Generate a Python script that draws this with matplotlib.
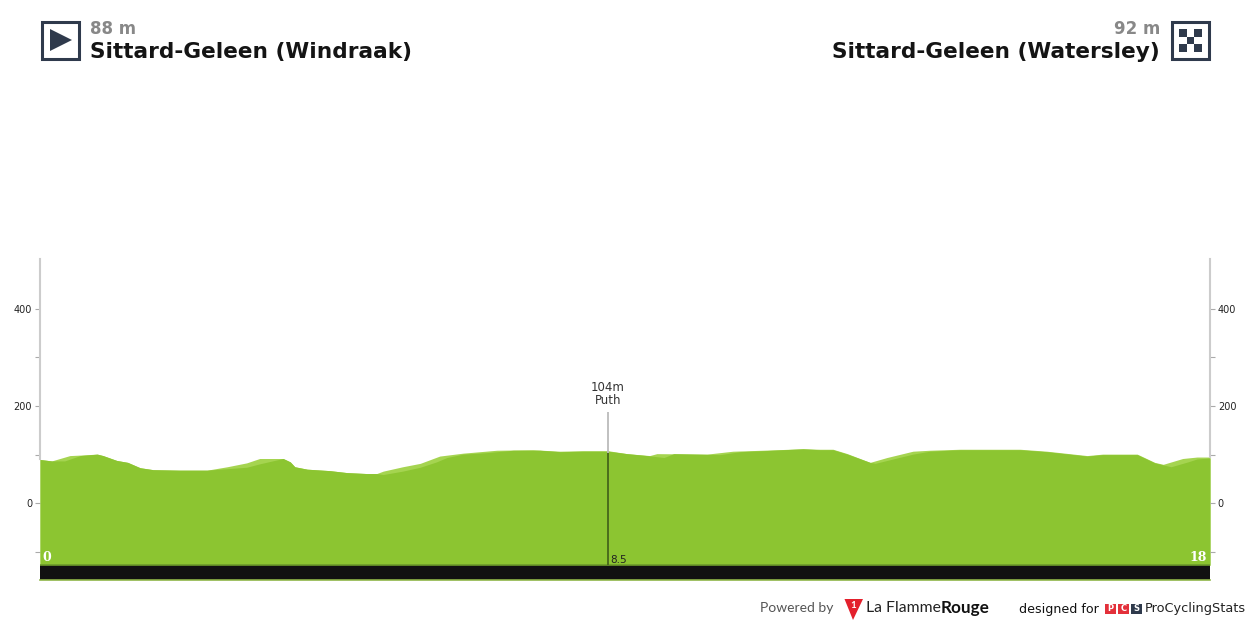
import matplotlib
matplotlib.use('Agg')
import matplotlib.pyplot as plt
from matplotlib.patches import Rectangle, Polygon

# === Data ===
KM_TOP = [0, 0.18, 0.46, 0.62, 0.88, 0.97, 1.18, 1.35, 1.54, 1.74, 2.15, 2.57, 2.88, 3.18, 3.38, 3.74,
          3.85, 3.92, 4.11, 4.46, 4.72, 5.03, 5.18, 5.28, 5.58, 5.85, 6.15, 6.51, 7.03, 7.58, 8.0, 8.35,
          8.74, 9.03, 9.38, 9.49, 10.26, 10.66, 11.12, 11.74, 12.0, 12.2, 12.42, 12.77, 13.03, 13.43,
          13.69, 14.15, 15.08, 15.49, 16.11, 16.35, 16.88, 17.15, 17.28, 17.58, 17.8, 18]
ELE_TOP = [90, 87, 98, 99, 101, 98, 88, 84, 73, 69, 68, 68, 75, 83, 92, 92,
           85, 75, 70, 67, 63, 61, 61, 66, 75, 82, 97, 103, 109, 110, 107, 108,
           108, 102, 98, 102, 101, 107, 109, 112, 111, 111, 102, 84, 94, 107,
           109, 111, 111, 107, 98, 101, 101, 84, 80, 92, 95, 95]

KM_BASE = [0, 0.18, 0.38, 0.62, 0.88, 0.97, 1.18, 1.35, 1.54, 1.74, 2.15, 2.57, 2.88, 3.18, 3.38, 3.74,
           3.85, 3.92, 4.11, 4.46, 4.72, 5.03, 5.18, 5.28, 5.58, 5.85, 6.1, 6.26, 6.51, 6.87, 7.28, 7.69,
           8.0, 8.35, 8.74, 9.03, 9.34, 9.6, 9.75, 10.45, 10.46, 10.77, 11.12, 11.74, 12.0, 12.2, 12.42,
           12.77, 12.85, 13.43, 13.69, 14.15, 15.08, 15.49, 16.11, 16.35, 16.88, 17.15, 17.4, 17.66, 17.8, 18]
ELE_BASE = [90, 87, 87, 98, 101, 98, 88, 84, 73, 69, 68, 68, 71, 74, 81, 92,
            85, 75, 70, 67, 63, 61, 61, 59, 66, 74, 85, 94, 101, 104, 109, 109,
            106, 107, 107, 102, 98, 94, 102, 100, 100, 106, 108, 112, 110, 110, 101,
            84, 82, 101, 107, 110, 110, 106, 97, 100, 100, 83, 75, 85, 91, 93]

Y_TICKS = [-100, 0, 100, 200, 300, 400]
Y_LABELS = ['', '0', '', '200', '', '400']
PASS_KM = 8.74
PASS_ELE = 104
PASS_TOP = 187
PASS_LABEL = '104m\nPuth'
PASS_DIST = '8.5'
START = ['88 m', 'Sittard-Geleen (Windraak)']
FINISH = ['92 m', 'Sittard-Geleen (Watersley)']
DIST_MIN, DIST_MAX = 0, 18
Y_MIN, Y_MAX = -158, 502.5
GROUND = -127.6

W, H = 1250, 625
NAVY = '#2f3a4c'
SANS = ['DejaVu Sans']

fig = plt.figure(figsize=(12.5, 6.25), dpi=100)

# === Profile axes ===
ax = fig.add_axes([40 / W, 1 - 580 / H, 1170 / W, 321 / H])
ax.set_xlim(DIST_MIN, DIST_MAX)
ax.set_ylim(Y_MIN, Y_MAX)
ax.fill_between(KM_TOP, GROUND, ELE_TOP, color='#a5d450', lw=0, zorder=1)
ax.fill_between(KM_BASE, GROUND, ELE_BASE, color='#8cc531', lw=0, zorder=2)
ax.axhspan(Y_MIN, GROUND, color='#111111', lw=0, zorder=3)
ax.axhline(GROUND, color='#6c9a2a', lw=1.2, zorder=4)
ax.axhline(Y_MIN, color='#8fb548', lw=1.2, zorder=4, clip_on=False)

ax.set_yticks(Y_TICKS)
ax.set_yticklabels(Y_LABELS)
ax.set_xticks([])
ax.tick_params(axis='y', length=3.6, width=0.8, color='#aaaaaa', labelsize=7, labelcolor='#222222', pad=2)
for s in ['top', 'right', 'bottom']:
    ax.spines[s].set_visible(False)
ax.spines['left'].set_color('#cccccc')
ax.spines['left'].set_linewidth(1.5)
ax.spines['left'].set_bounds(ELE_TOP[0], Y_MAX)

ax2 = ax.twinx()
ax2.set_ylim(Y_MIN, Y_MAX)
ax2.set_yticks(Y_TICKS)
ax2.set_yticklabels(Y_LABELS)
ax2.tick_params(axis='y', length=3.6, width=0.8, color='#aaaaaa', labelsize=7, labelcolor='#222222', pad=2)
for s in ['top', 'left', 'bottom']:
    ax2.spines[s].set_visible(False)
ax2.spines['right'].set_color('#cccccc')
ax2.spines['right'].set_linewidth(1.5)
ax2.spines['right'].set_bounds(ELE_TOP[-1], Y_MAX)

# pass marker
ax.plot([PASS_KM, PASS_KM], [PASS_ELE, PASS_TOP], color='#bbbbbb', lw=1.3, zorder=5, solid_capstyle='butt')
ax.plot([PASS_KM, PASS_KM], [GROUND, PASS_ELE], color='#46661a', lw=1.3, zorder=5, solid_capstyle='butt')
ax.annotate(PASS_LABEL, (PASS_KM, PASS_TOP), xytext=(0, 3.5), textcoords='offset points', ha='center', va='bottom',
            fontsize=8.5, color='#333333', family=SANS, linespacing=1.0)
ax.annotate(PASS_DIST, (PASS_KM, GROUND), xytext=(1.2, 0), textcoords='offset points', ha='left', va='bottom',
            fontsize=7.5, color='#222222', zorder=6)
ax.annotate(str(DIST_MIN), (DIST_MIN, GROUND), xytext=(1.5, 1), textcoords='offset points', ha='left', va='bottom',
            fontsize=9, color='white', fontweight='bold', family='DejaVu Serif', zorder=6)
ax.annotate(str(DIST_MAX), (DIST_MAX, GROUND), xytext=(-2, 1), textcoords='offset points', ha='right', va='bottom',
            fontsize=9, color='white', fontweight='bold', family='DejaVu Serif', zorder=6)

# === Header and footer, in pixel coordinates ===
px = fig.add_axes([0, 0, 1, 1], facecolor='none')
px.set_xlim(0, W)
px.set_ylim(H, 0)
px.axis('off')

px.text(90, 29, START[0], fontsize=12, fontweight='bold', color='#888888', va='center', ha='left', family=SANS)
px.text(90, 52, START[1], fontsize=15.6, fontweight='bold', color='#141414', va='center', ha='left', family=SANS)
px.text(1160, 29, FINISH[0], fontsize=12, fontweight='bold', color='#888888', va='center', ha='right', family=SANS)
px.text(1160, 52, FINISH[1], fontsize=15.6, fontweight='bold', color='#141414', va='center', ha='right', family=SANS)

# start icon
px.add_patch(Rectangle((41.5, 21.5), 37, 37, fc='white', ec=NAVY, lw=2.2))
px.add_patch(Polygon([[50, 29], [72, 40], [50, 51]], fc=NAVY, ec='none'))
# finish icon
px.add_patch(Rectangle((1171.5, 21.5), 37, 37, fc='white', ec=NAVY, lw=2.2))
for i in range(3):
    for j in range(3):
        if (i + j) % 2 == 0:
            px.add_patch(Rectangle((1179 + i * 7.7, 29 + j * 7.7), 7.7, 7.7, fc=NAVY, ec='none'))

# footer
px.text(760, 608, 'Powered by', fontsize=10, color='#555555', va='center', ha='left', family='Lato')
px.add_patch(Polygon([[844.5, 599], [863, 599], [853, 620]], fc='#e3202c', ec='none'))
px.text(853, 605, '1', fontsize=7, color='white', va='center', ha='center', fontweight='bold', family='Lato')
px.text(866, 608, 'La Flamme', fontsize=11.3, color='#222222', va='center', ha='left', family='Lato')
px.text(941, 608, 'Rouge', fontsize=12.3, color='#111111', va='center', ha='left', fontweight='bold', family='Lato')
px.text(1019, 609, 'designed for', fontsize=9.1, color='#111111', va='center', ha='left', family=SANS)
for x0, c, letter in [(1105, '#e3303a', 'P'), (1118, '#e3303a', 'C'), (1131, NAVY, 'S')]:
    px.add_patch(Rectangle((x0, 603.5), 11, 10, fc=c, ec='none'))
    px.text(x0 + 5.5, 608.5, letter, fontsize=6, color='white', va='center', ha='center', fontweight='bold', family=SANS)
px.text(1145, 608.5, 'ProCyclingStats', fontsize=9.3, color='#222222', va='center', ha='left', family=SANS)

plt.savefig('out.png', dpi=100)
